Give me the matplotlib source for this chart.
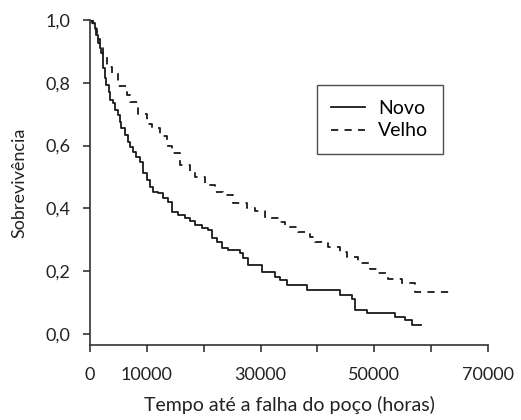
import matplotlib
matplotlib.use("Agg")
import matplotlib.pyplot as plt
from matplotlib.ticker import FixedLocator, FixedFormatter

plt.rcParams['font.family'] = ['Lato', 'DejaVu Sans']

# Kaplan-Meier step curves (time in hours, survival)
novo_t = [0, 350, 830, 1110, 1410, 1710, 1990, 2290, 2590, 2870, 3290, 3570,
          4050, 4450, 4920, 5220, 5510, 6100, 6680, 6980, 7560, 8140, 8740,
          9370, 9970, 10550, 11130, 12010, 12890, 13770, 14370, 15530, 16710,
          17590, 18470, 19650, 20810, 21400, 22280, 23160, 24320, 26380, 26970,
          27850, 30200, 32540, 33420, 34600, 38100, 44000, 46000, 46600, 48700,
          53700, 55400, 56600, 58300]
novo_s = [1.0, 0.99, 0.974, 0.952, 0.926, 0.91, 0.894, 0.846, 0.814, 0.793,
          0.772, 0.745, 0.735, 0.713, 0.697, 0.676, 0.655, 0.634, 0.612, 0.597,
          0.581, 0.565, 0.549, 0.512, 0.49, 0.469, 0.453, 0.448, 0.432, 0.421,
          0.389, 0.379, 0.368, 0.361, 0.347, 0.336, 0.331, 0.305, 0.294, 0.273,
          0.268, 0.257, 0.241, 0.22, 0.198, 0.182, 0.172, 0.156, 0.14, 0.124,
          0.11, 0.076, 0.066, 0.053, 0.045, 0.029, 0.029]

velho_t = [0, 600, 1180, 1760, 2340, 2940, 3820, 4980, 6460, 7040, 8500, 9970,
           10850, 12310, 13490, 14370, 15830, 17590, 18470, 20230, 21990, 23450,
           25210, 27560, 29020, 30780, 33120, 34300, 36640, 38700, 39580, 41920,
           43980, 45150, 47190, 49250, 50430, 52470, 54830, 57170, 63900]
velho_s = [1.0, 0.97, 0.94, 0.91, 0.89, 0.85, 0.83, 0.79, 0.76, 0.74, 0.70, 0.67,
           0.655, 0.63, 0.60, 0.575, 0.538, 0.517, 0.499, 0.475, 0.453, 0.443,
           0.418, 0.40, 0.393, 0.368, 0.358, 0.342, 0.326, 0.31, 0.294, 0.278,
           0.26, 0.246, 0.225, 0.206, 0.193, 0.174, 0.161, 0.133, 0.133]

x_ticks = [0, 10000, 20000, 30000, 40000, 50000, 60000, 70000]
x_labels = ['0', '10000', '', '30000', '', '50000', '', '70000']
y_ticks = [0.0, 0.2, 0.4, 0.6, 0.8, 1.0]
y_labels = ['0,0', '0,2', '0,4', '0,6', '0,8', '1,0']

fig = plt.figure(figsize=(5.21, 4.2), dpi=100)
ax = fig.add_axes([0.1727, 0.1786, 0.764, 0.7738])

ax.step(novo_t, novo_s, where='post', color='#1a1a1a', lw=1.3, label='Novo')
ax.step(velho_t, velho_s, where='post', color='#1a1a1a', lw=1.3,
        linestyle=(0, (4, 3.5)), label='Velho')

ax.set_xlim(0, 70000)
ax.set_ylim(-0.035, 1.0)
ax.xaxis.set_major_locator(FixedLocator(x_ticks))
ax.xaxis.set_major_formatter(FixedFormatter(x_labels))
ax.yaxis.set_major_locator(FixedLocator(y_ticks))
ax.yaxis.set_major_formatter(FixedFormatter(y_labels))

for side in ['top', 'right']:
    ax.spines[side].set_visible(False)
for side in ['left', 'bottom']:
    ax.spines[side].set_color('#333333')
    ax.spines[side].set_linewidth(1.2)
ax.tick_params(axis='both', direction='out', length=5, width=1.2,
               color='#333333', labelsize=13, labelcolor='#222222')
ax.tick_params(axis='x', pad=11)
ax.tick_params(axis='y', pad=9)

ax.set_xlabel('Tempo até a falha do poço (horas)', fontsize=14,
              color='#222222', labelpad=9)
ax.set_ylabel('Sobrevivência', fontsize=13, color='#222222', labelpad=13)

leg = ax.legend(loc='upper left', bbox_to_anchor=(0.57, 0.80), fontsize=14,
                frameon=True, fancybox=False, handlelength=1.7,
                handletextpad=0.7, borderpad=0.75, labelspacing=0.3,
                borderaxespad=0)
leg.get_frame().set_edgecolor('#222222')
leg.get_frame().set_linewidth(1.0)

fig.savefig('out.png', dpi=100)
